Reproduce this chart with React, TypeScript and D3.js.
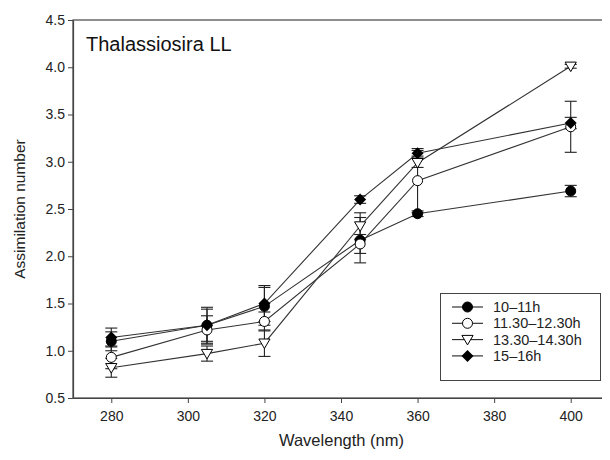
import React, { useEffect, useRef } from "react";
import * as d3 from "d3";

const wavelengths = [280, 305, 320, 345, 360, 400];
const seriesNames = ["10\u201311h", "11.30\u201312.30h", "13.30\u201314.30h", "15\u201316h"];
const markers = ["circleFilled", "circleOpen", "triangleOpen", "diamondFilled"];
const values10 = [1.1, 1.27, 1.47, 2.17, 2.45, 2.69];
const values1130 = [0.93, 1.22, 1.31, 2.13, 2.8, 3.37];
const values1330 = [0.82, 0.97, 1.08, 2.32, 2.99, 4.01];
const values15 = [1.14, 1.27, 1.5, 2.6, 3.09, 3.41];
const err10 = [0.1, 0.19, 0.2, 0.24, 0.03, 0.06];
const err1130 = [0.12, 0.15, 0.1, 0.1, 0.34, 0.27];
const err1330 = [0.1, 0.08, 0.14, 0.14, 0.05, 0.02];
const err15 = [0.1, 0.17, 0.19, 0.04, 0.03, 0.06];
const yTicks = [0.5, 1.0, 1.5, 2.0, 2.5, 3.0, 3.5, 4.0, 4.5];
const xTicks = [280, 300, 320, 340, 360, 380, 400];

const allValues = [values10, values1130, values1330, values15];
const allErrors = [err10, err1130, err1330, err15];

const W = 610;
const H = 460;
const margin = { left: 73, right: 1, top: 20, bottom: 62 };

export default function App() {
  const ref = useRef<SVGSVGElement>(null);

  useEffect(() => {
    const svg = d3.select(ref.current);
    svg.selectAll("*").remove();
    const font = "Liberation Sans, Arial, sans-serif";

    const x = d3.scaleLinear().domain([270, 410]).range([margin.left, W - margin.right]);
    const y = d3.scaleLinear().domain([0.5, 4.5]).range([H - margin.bottom, margin.top]);

    // frame
    svg
      .append("rect")
      .attr("x", margin.left)
      .attr("y", margin.top)
      .attr("width", W - margin.right - margin.left)
      .attr("height", H - margin.bottom - margin.top)
      .attr("fill", "none")
      .attr("stroke", "#444")
      .attr("stroke-width", 1.2);

    const xAxis = svg
      .append("g")
      .attr("transform", `translate(0,${H - margin.bottom})`)
      .call(d3.axisBottom(x).tickValues(xTicks).tickSize(5).tickSizeOuter(0).tickFormat(d3.format("d")));
    const yAxis = svg
      .append("g")
      .attr("transform", `translate(${margin.left},0)`)
      .call(d3.axisLeft(y).tickValues(yTicks).tickSize(5).tickSizeOuter(0).tickFormat(d3.format(".1f")));
    [xAxis, yAxis].forEach((g) => {
      g.select(".domain").attr("stroke", "#444").attr("stroke-width", 1.2);
      g.selectAll(".tick line").attr("stroke", "#444");
      g.selectAll("text").attr("font-family", font).attr("font-size", 14).attr("fill", "#222");
    });
    xAxis.selectAll("text").attr("dy", "1.05em");

    svg
      .append("text")
      .attr("x", (margin.left + W) / 2)
      .attr("y", 446)
      .attr("text-anchor", "middle")
      .attr("font-family", font)
      .attr("font-size", 16.5)
      .attr("fill", "#222")
      .text("Wavelength (nm)");
    svg
      .append("text")
      .attr("transform", `translate(25,${(margin.top + H - margin.bottom) / 2}) rotate(-90)`)
      .attr("text-anchor", "middle")
      .attr("font-family", font)
      .attr("font-size", 15.5)
      .attr("fill", "#222")
      .text("Assimilation number");
    svg
      .append("text")
      .attr("x", 86)
      .attr("y", 51)
      .attr("font-family", font)
      .attr("font-size", 20)
      .attr("fill", "#111")
      .text("Thalassiosira LL");

    const drawMarker = (g: any, kind: string, cx: number, cy: number) => {
      if (kind === "circleFilled" || kind === "circleOpen") {
        g.append("circle")
          .attr("cx", cx)
          .attr("cy", cy)
          .attr("r", 5)
          .attr("fill", kind === "circleFilled" ? "#000" : "#fff")
          .attr("stroke", "#000")
          .attr("stroke-width", 1);
      } else if (kind === "triangleOpen") {
        const s = 5.6;
        g.append("path")
          .attr("d", `M${cx - s},${cy - s * 0.75}L${cx + s},${cy - s * 0.75}L${cx},${cy + s * 0.95}Z`)
          .attr("fill", "#fff")
          .attr("stroke", "#000")
          .attr("stroke-width", 1);
      } else {
        const s = 6;
        g.append("path")
          .attr("d", `M${cx},${cy - s}L${cx + s},${cy}L${cx},${cy + s}L${cx - s},${cy}Z`)
          .attr("fill", "#000");
      }
    };

    const line = d3
      .line<number>()
      .x((_, i) => x(wavelengths[i]))
      .y((d) => y(d));

    const plot = svg.append("g");
    // lines
    allValues.forEach((vals) => {
      plot.append("path").attr("d", line(vals)).attr("fill", "none").attr("stroke", "#333").attr("stroke-width", 1.1);
    });
    // error bars
    allValues.forEach((vals, si) => {
      vals.forEach((v, i) => {
        const e = allErrors[si][i];
        const cx = x(wavelengths[i]);
        const g = plot.append("g").attr("stroke", "#222").attr("stroke-width", 1.1);
        g.append("line").attr("x1", cx).attr("x2", cx).attr("y1", y(v - e)).attr("y2", y(v + e));
        [v - e, v + e].forEach((c) => {
          g.append("line").attr("x1", cx - 6).attr("x2", cx + 6).attr("y1", y(c)).attr("y2", y(c));
        });
      });
    });
    // markers
    allValues.forEach((vals, si) => {
      vals.forEach((v, i) => drawMarker(plot, markers[si], x(wavelengths[i]), y(v)));
    });

    // legend
    const lg = svg.append("g");
    lg.append("rect")
      .attr("x", 440.5)
      .attr("y", 293.5)
      .attr("width", 160)
      .attr("height", 87)
      .attr("fill", "#fff")
      .attr("stroke", "#444")
      .attr("stroke-width", 1);
    seriesNames.forEach((name, i) => {
      const ly = 307 + i * 16.3;
      lg.append("line").attr("x1", 452).attr("x2", 483).attr("y1", ly).attr("y2", ly).attr("stroke", "#222").attr("stroke-width", 1.1);
      drawMarker(lg, markers[i], 467.5, ly);
      lg.append("text")
        .attr("x", 493)
        .attr("y", ly + 5)
        .attr("font-family", font)
        .attr("font-size", 14.5)
        .attr("fill", "#222")
        .text(name);
    });
  }, []);

  return (
    <div style={{ width: W, height: H, margin: -8 }}>
      <svg ref={ref} width={W} height={H} style={{ display: "block" }} />
    </div>
  );
}
